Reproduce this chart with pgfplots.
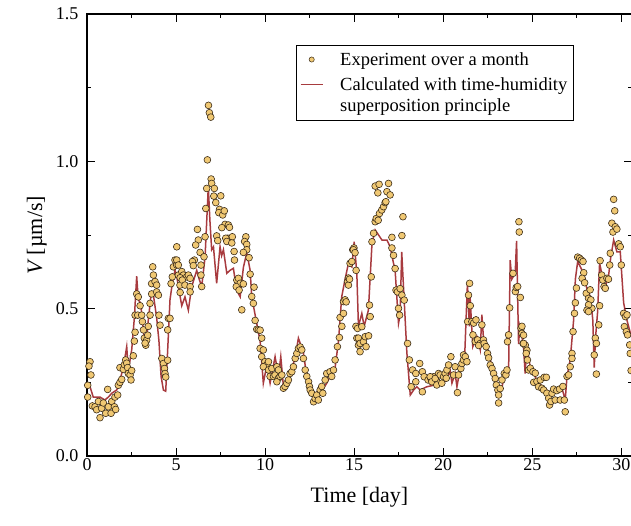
\documentclass[border=0pt]{standalone}
\usepackage{fontspec}
\setmainfont{Liberation Serif}
\usepackage{pgfplots}
\pgfplotsset{compat=1.18}
\definecolor{cExp}{RGB}{240,200,115}
\definecolor{cEdge}{RGB}{60,45,25}
\definecolor{cCalc}{RGB}{158,38,42}

\begin{document}
\begin{tikzpicture}
\begin{axis}[
  name=ax,
  scale only axis, width=545pt, height=442pt,
  xmin=0, xmax=30.6, ymin=0, ymax=1.5,
  xtick={0,5,...,30}, ytick={0,0.5,1,1.5},
  minor x tick num=1, minor y tick num=1,
  tick align=inside, major tick length=8pt, minor tick length=4pt,
  every tick/.style={black, line width=0.9pt},
  axis line style={line width=1.5pt},
  /pgf/number format/assume math mode=true,
  tick label style={font=\fontsize{18}{21}\selectfont},
  yticklabel style={xshift=-5pt, /pgf/number format/.cd, fixed, fixed zerofill, precision=1},
  xticklabel style={yshift=1pt},
  xlabel={Time [day]}, ylabel={{\itshape V} [µm/s]},
  label style={font=\fontsize{22}{26}\selectfont},
  xlabel style={at={(axis description cs:0.5,-0.093)}, anchor=center},
  ylabel style={at={(axis description cs:-0.092,0.5)}, anchor=center},
  legend cell align=left,
  legend style={at={(0.383,0.93)}, anchor=north west, draw=black, line width=0.8pt,
    font=\fontsize{18.5}{21}\selectfont, cells={align=left},
    inner xsep=4pt, inner ysep=5pt, column sep=15pt, row sep=7pt},
]
\addplot[only marks, mark=*, mark size=3.4pt,
  mark options={fill=cExp, draw=cEdge, line width=0.6pt},
  legend image code/.code={\draw[fill=cExp, draw=cEdge, line width=0.5pt] (11pt,0pt) circle (2.6pt);}] table {
x y
0.17 0.32
0.11 0.305
0.22 0.275
0.04 0.24
0.04 0.20
0.30 0.17
0.45 0.167
0.64 0.185
0.54 0.157
0.73 0.13
0.82 0.162
0.92 0.18
1.05 0.145
1.16 0.226
1.20 0.167
1.35 0.145
1.39 0.185
1.54 0.167
1.61 0.158
1.57 0.20
1.72 0.207
1.76 0.24
1.85 0.25
1.85 0.30
1.95 0.26
2.04 0.294
2.10 0.31
2.17 0.326
2.23 0.315
2.28 0.30
2.32 0.28
2.42 0.275
2.47 0.258
2.51 0.29
2.60 0.34
2.66 0.39
2.70 0.42
2.70 0.478
2.79 0.55
2.85 0.478
2.88 0.54
2.98 0.51
3.07 0.478
3.11 0.456
3.17 0.428
3.22 0.40
3.30 0.376
3.35 0.393
3.26 0.383
3.41 0.41
3.44 0.44
3.54 0.478
3.54 0.518
3.63 0.55
3.63 0.585
3.73 0.614
3.69 0.642
3.82 0.592
3.91 0.58
3.91 0.557
4.01 0.546
4.04 0.478
4.10 0.444
4.20 0.331
4.29 0.314
4.35 0.297
4.38 0.28
4.42 0.268
4.53 0.325
4.53 0.428
4.57 0.467
4.66 0.467
4.72 0.585
4.79 0.608
4.85 0.642
4.94 0.665
5.04 0.648
5.13 0.614
5.22 0.58
5.32 0.603
5.04 0.71
5.04 0.665
5.13 0.648
5.32 0.626
5.41 0.614
5.60 0.608
5.69 0.614
5.79 0.603
5.23 0.605
5.35 0.597
5.50 0.58
5.79 0.575
5.23 0.555
5.79 0.557
6.40 0.614
6.44 0.575
6.82 1.19
6.87 1.165
6.95 1.15
6.76 1.005
6.97 0.94
7.00 0.925
7.15 0.908
6.72 0.908
7.12 0.882
7.51 0.883
7.23 0.86
7.44 0.837
7.40 0.826
7.62 0.818
7.71 0.832
7.75 0.786
7.57 0.775
7.94 0.784
8.00 0.776
7.90 0.739
8.16 0.744
7.79 0.739
7.85 0.728
8.13 0.723
7.28 0.747
7.34 0.731
8.26 0.694
8.28 0.665
8.92 0.744
8.85 0.728
8.97 0.718
8.97 0.70
8.78 0.691
9.10 0.673
9.16 0.617
9.38 0.573
9.25 0.541
9.34 0.518
8.69 0.496
9.44 0.46
9.53 0.43
9.62 0.428
6.67 0.84
6.63 0.744
6.20 0.769
6.25 0.733
6.10 0.716
6.35 0.691
6.03 0.665
5.92 0.66
5.97 0.646
6.40 0.648
6.57 0.676
8.41 0.597
8.50 0.603
8.60 0.586
8.78 0.584
8.38 0.575
8.54 0.563
9.72 0.427
9.81 0.40
9.72 0.365
9.81 0.337
9.90 0.36
9.99 0.32
10.10 0.31
9.90 0.303
10.19 0.32
10.19 0.292
10.38 0.297
10.28 0.27
10.47 0.27
10.56 0.275
10.66 0.303
10.75 0.292
10.75 0.264
10.66 0.252
10.84 0.27
10.94 0.275
11.03 0.23
11.12 0.236
11.22 0.247
11.31 0.258
11.40 0.28
11.50 0.286
11.59 0.303
11.69 0.331
11.78 0.348
11.87 0.365
11.97 0.37
12.06 0.36
12.15 0.331
12.25 0.292
12.34 0.27
12.44 0.252
12.49 0.236
12.53 0.224
12.62 0.213
12.72 0.184
12.81 0.195
12.90 0.207
12.99 0.19
13.09 0.224
13.18 0.236
13.24 0.213
13.37 0.258
13.46 0.28
13.65 0.286
13.74 0.27
13.84 0.292
13.93 0.326
14.06 0.371
14.17 0.402
14.21 0.47
14.40 0.524
14.49 0.53
14.63 0.592
14.68 0.604
14.77 0.654
14.92 0.70
14.99 0.706
15.10 0.44
15.15 0.40
15.24 0.376
14.31 0.44
14.40 0.484
14.55 0.523
14.68 0.58
14.74 0.60
14.87 0.66
14.96 0.70
15.05 0.69
15.11 0.63
15.19 0.433
15.43 0.439
15.24 0.40
15.33 0.382
15.52 0.388
15.67 0.371
15.33 0.354
15.62 0.405
15.81 0.408
15.86 0.512
15.90 0.473
15.96 0.608
16.00 0.727
16.09 0.756
16.18 0.795
16.24 0.806
16.42 0.823
16.55 0.835
16.65 0.846
16.74 0.86
16.18 0.916
16.40 0.922
16.93 0.925
16.33 0.893
16.84 0.897
17.02 0.886
16.78 0.863
16.35 0.80
17.74 0.812
17.68 0.748
17.12 0.742
17.12 0.706
17.21 0.681
17.30 0.636
17.35 0.563
17.43 0.557
17.58 0.568
17.68 0.546
17.81 0.529
17.49 0.501
17.55 0.478
18.00 0.382
18.10 0.326
18.28 0.292
18.46 0.28
18.68 0.314
18.83 0.286
18.46 0.252
18.20 0.235
18.93 0.269
19.15 0.258
19.30 0.264
18.83 0.218
19.46 0.269
19.65 0.252
19.74 0.28
19.27 0.269
19.36 0.252
19.55 0.263
19.64 0.241
19.83 0.275
19.92 0.247
20.02 0.269
20.11 0.28
20.21 0.292
20.17 0.264
20.30 0.309
20.43 0.337
20.58 0.275
20.67 0.303
20.80 0.215
20.86 0.275
20.99 0.297
21.05 0.314
21.14 0.326
21.14 0.343
21.24 0.337
21.33 0.32
21.37 0.456
21.42 0.546
21.48 0.586
21.52 0.51
21.61 0.456
21.71 0.451
21.84 0.462
21.67 0.411
21.80 0.388
21.93 0.394
22.08 0.382
21.99 0.375
22.17 0.445
22.26 0.394
22.30 0.382
22.41 0.371
22.49 0.348
22.55 0.333
22.64 0.309
22.74 0.297
22.83 0.28
22.92 0.263
22.98 0.241
23.07 0.224
23.11 0.207
23.11 0.18
23.20 0.229
23.30 0.258
23.43 0.28
23.52 0.275
23.58 0.292
23.61 0.388
23.67 0.411
23.73 0.503
23.92 0.62
24.05 0.558
24.10 0.572
24.18 0.575
24.33 0.538
24.37 0.433
24.42 0.416
24.48 0.382
24.61 0.376
24.70 0.359
24.79 0.292
24.25 0.795
24.27 0.76
24.42 0.44
24.51 0.41
24.51 0.382
24.66 0.348
24.73 0.326
24.89 0.298
25.04 0.286
25.17 0.281
25.08 0.25
25.26 0.253
25.35 0.235
25.45 0.258
25.54 0.23
25.67 0.267
25.79 0.267
25.64 0.224
25.82 0.213
25.92 0.196
25.97 0.173
26.05 0.185
26.11 0.213
26.20 0.227
26.29 0.19
26.38 0.222
26.53 0.227
26.57 0.19
26.72 0.236
26.80 0.19
26.85 0.15
26.95 0.27
27.04 0.275
27.13 0.303
27.23 0.348
27.23 0.331
27.29 0.422
27.37 0.484
27.42 0.52
27.48 0.57
27.55 0.675
27.66 0.671
27.76 0.665
27.85 0.66
27.89 0.622
27.80 0.603
27.94 0.588
28.03 0.552
28.16 0.535
28.25 0.564
28.29 0.53
28.35 0.501
28.16 0.513
28.07 0.495
28.16 0.49
28.78 0.51
28.73 0.445
28.54 0.40
28.60 0.382
28.48 0.343
28.60 0.278
28.81 0.663
28.90 0.614
28.96 0.597
29.03 0.575
29.10 0.569
29.19 0.603
29.28 0.60
29.35 0.648
29.38 0.688
29.57 0.871
29.63 0.832
29.47 0.79
29.53 0.76
29.66 0.778
29.75 0.77
29.85 0.72
29.94 0.71
30.00 0.648
30.13 0.484
30.23 0.473
30.32 0.479
30.17 0.439
30.28 0.422
30.35 0.411
30.47 0.377
30.50 0.348
30.55 0.29
};
\addplot[cCalc, line width=1.5pt, opacity=0.9,
  legend image code/.code={\draw[cCalc, line width=1.1pt] (0pt,10.5pt) -- (22pt,10.5pt);}] table {
x y
0 0.247
0.17 0.235
0.35 0.20
0.73 0.20
1.0 0.19
1.2 0.20
1.39 0.213
1.67 0.224
1.85 0.258
2.04 0.30
2.23 0.371
2.32 0.29
2.51 0.36
2.66 0.47
2.79 0.61
2.88 0.53
3.0 0.52
3.1 0.47
3.22 0.39
3.35 0.40
3.44 0.46
3.6 0.55
3.72 0.55
3.91 0.47
4.04 0.39
4.16 0.27
4.29 0.224
4.42 0.22
4.53 0.36
4.66 0.53
4.79 0.586
4.94 0.63
5.04 0.61
5.13 0.575
5.32 0.51
5.5 0.54
5.69 0.495
5.88 0.575
6.16 0.63
6.3 0.60
6.44 0.575
6.63 0.676
6.81 0.914
6.9 0.80
7.0 0.70
7.1 0.71
7.28 0.586
7.47 0.71
7.56 0.68
7.66 0.70
7.85 0.62
8.03 0.63
8.22 0.637
8.4 0.563
8.6 0.54
8.78 0.64
8.97 0.69
9.16 0.63
9.25 0.54
9.53 0.45
9.72 0.39
9.9 0.247
10.1 0.31
10.28 0.247
10.56 0.337
10.75 0.27
10.88 0.337
11.03 0.235
11.4 0.27
11.69 0.337
11.87 0.40
12.15 0.35
12.34 0.27
12.62 0.224
12.8 0.207
13.0 0.224
13.28 0.23
13.46 0.247
13.65 0.27
13.93 0.30
14.12 0.39
14.3 0.54
14.49 0.60
14.68 0.654
14.87 0.642
15.0 0.727
15.15 0.62
15.24 0.44
15.43 0.484
15.56 0.44
15.8 0.495
16.0 0.72
16.18 0.767
16.37 0.75
16.56 0.733
16.84 0.733
17.02 0.71
17.21 0.654
17.3 0.63
17.49 0.45
17.58 0.48
17.67 0.693
17.77 0.574
17.96 0.35
18.15 0.207
18.34 0.224
18.52 0.235
18.7 0.224
19.08 0.235
19.46 0.24
19.83 0.24
20.2 0.258
20.39 0.29
20.49 0.247
20.67 0.28
20.77 0.235
20.96 0.30
21.14 0.337
21.2 0.33
21.36 0.586
21.47 0.44
21.5 0.55
21.66 0.371
21.89 0.405
22.08 0.36
22.17 0.48
22.26 0.40
22.45 0.371
22.64 0.326
22.83 0.29
23.02 0.247
23.1 0.213
23.3 0.235
23.48 0.28
23.67 0.28
23.76 0.665
23.85 0.60
24.04 0.62
24.12 0.73
24.23 0.38
24.3 0.44
24.5 0.38
24.6 0.28
24.7 0.371
24.89 0.30
25.07 0.28
25.35 0.247
25.63 0.235
25.92 0.218
26.2 0.213
26.48 0.224
26.67 0.23
26.85 0.19
26.95 0.27
27.13 0.326
27.32 0.46
27.42 0.60
27.55 0.66
27.7 0.642
27.88 0.62
28.08 0.563
28.2 0.55
28.29 0.53
28.4 0.46
28.48 0.30
28.55 0.40
28.67 0.49
28.78 0.654
28.9 0.62
29.1 0.574
29.28 0.61
29.41 0.676
29.57 0.733
29.75 0.693
29.94 0.693
30.13 0.52
30.32 0.46
30.56 0.405
};
\legend{Experiment over a month, Calculated with time-humidity\\superposition principle}
\end{axis}
\pgfresetboundingbox
\path ([xshift=-87pt, yshift=-69pt]ax.south west) rectangle ([xshift=-1pt, yshift=14pt]ax.north east);
\end{tikzpicture}
\end{document}
